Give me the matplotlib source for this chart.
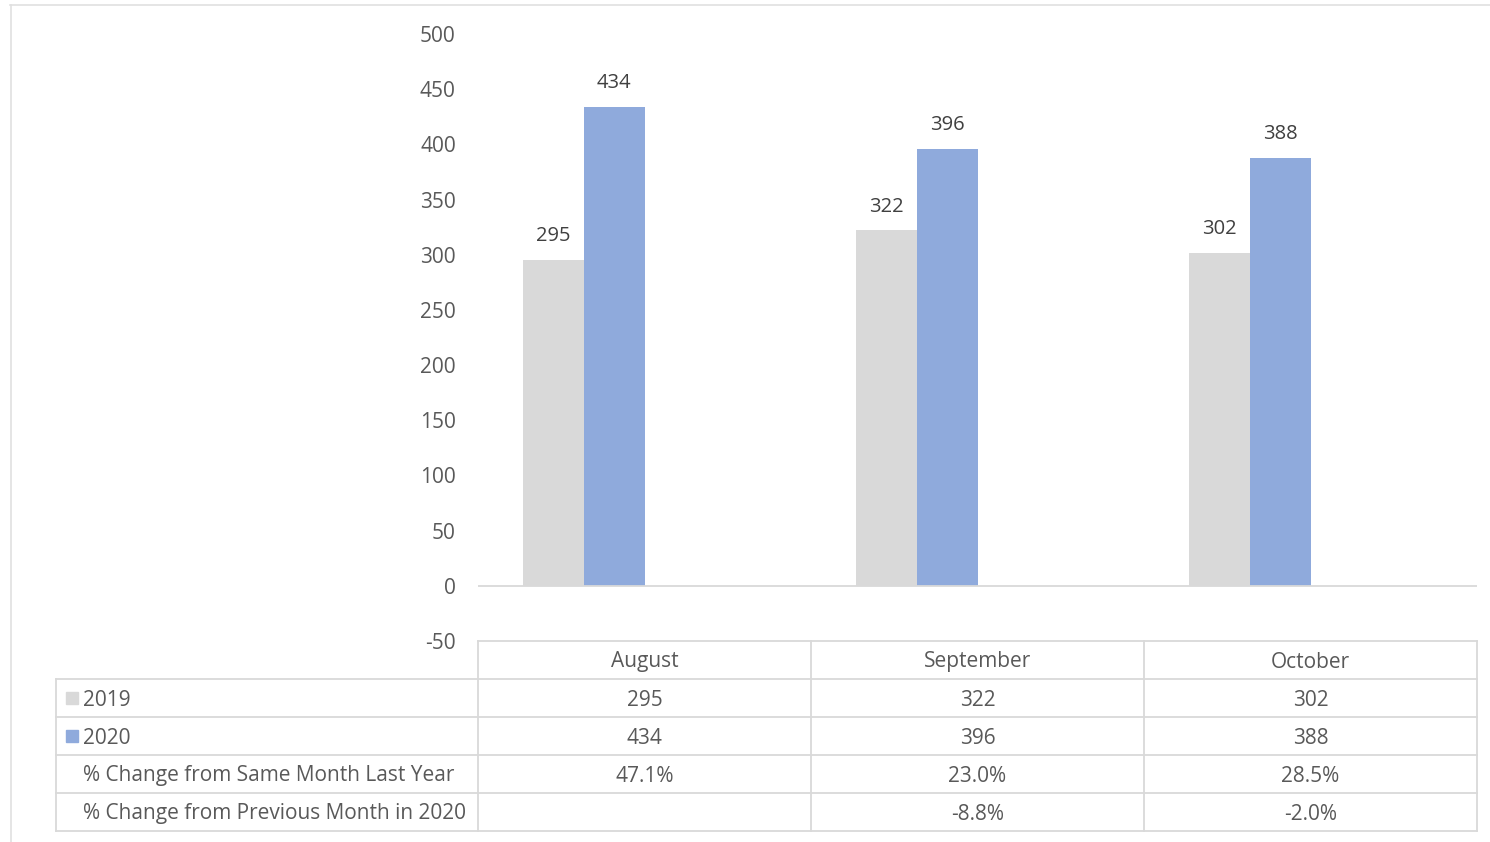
import matplotlib.pyplot as plt
from matplotlib.lines import Line2D
from matplotlib.patches import Rectangle

plt.rcParams["font.family"] = ["Open Sans", "DejaVu Sans"]
plt.rcParams["axes.unicode_minus"] = False

months = ["August", "September", "October"]
v2019 = [295, 322, 302]
v2020 = [434, 396, 388]
pct_year = ["47.1%", "23.0%", "28.5%"]
pct_month = ["", "-8.8%", "-2.0%"]
row_labels = ["2019", "2020", "% Change from Same Month Last Year",
              "% Change from Previous Month in 2020"]
yticks = list(range(-50, 501, 50))

grey = "#D9D9D9"
blue = "#8FAADC"
txt = "#595959"
line = "#D9D9D9"

W, H = 1490, 842
fig = plt.figure(figsize=(W / 100, H / 100), dpi=100)

# plot area in pixels
px_l, px_r, px_t, px_b = 478, 1477, 34, 641
ax = fig.add_axes([px_l / W, 1 - px_b / H, (px_r - px_l) / W, (px_b - px_t) / H])

w = 61 / 333
x = list(range(len(months)))
b1 = ax.bar([i - 1.5 * w for i in x], v2019, width=w, color=grey)
b2 = ax.bar([i - 0.5 * w for i in x], v2020, width=w, color=blue)
for bars, vals in [(b1, v2019), (b2, v2020)]:
    for r, v in zip(bars, vals):
        ax.annotate(str(v), (r.get_x() + r.get_width() / 2, v), xytext=(0, 10),
                    textcoords="offset points", ha="center", va="bottom",
                    fontsize=14.5, color="#404040")

ax.axhline(0, color=line, lw=1.3)
ax.set_xlim(-0.5, 2.5)
ax.set_ylim(-50, 500)
ax.set_yticks(yticks)
ax.tick_params(axis="y", length=0, pad=16, labelsize=15, labelcolor=txt)
ax.set_xticks([])
for s in ax.spines.values():
    s.set_visible(False)

# data table drawn on an overlay in pixel coordinates
ov = fig.add_axes([0, 0, 1, 1])
ov.set_xlim(0, W)
ov.set_ylim(H, 0)
ov.axis("off")

def seg(x0, y0, x1, y1, c=line, lw=1.3):
    ov.add_line(Line2D([x0, x1], [y0, y1], color=c, lw=lw))

# outer frame
seg(10, 5, W, 5, c="#E0E0E0", lw=1.2)
seg(11, 5, 11, H, c="#E0E0E0", lw=1.2)

cols = [478 + k * 333 for k in range(4)]
rows = [641 + k * 38 for k in range(6)]
tab_l = 56

seg(cols[0], rows[0], cols[-1], rows[0])
for y in rows[1:]:
    seg(tab_l, y, cols[-1], y)
for c in cols:
    seg(c, rows[0], c, rows[-1])
seg(tab_l, rows[1], tab_l, rows[-1])

for k, m in enumerate(months):
    ov.text((cols[k] + cols[k + 1]) / 2, (rows[0] + rows[1]) / 2 + 2, m,
            ha="center", va="center", fontsize=15, color=txt)

table_vals = [[str(v) for v in v2019], [str(v) for v in v2020], pct_year, pct_month]
for r, (lab, vals) in enumerate(zip(row_labels, table_vals)):
    yc = (rows[r + 1] + rows[r + 2]) / 2 + 2
    ov.text(83, yc, lab, ha="left", va="center", fontsize=15, color=txt)
    for k, v in enumerate(vals):
        ov.text((cols[k] + cols[k + 1]) / 2, yc, v, ha="center", va="center",
                fontsize=15, color=txt)

ov.add_patch(Rectangle((66, 692), 12, 12, color=grey))
ov.add_patch(Rectangle((66, 730), 12, 12, color=blue))

fig.savefig("out.png", dpi=100, facecolor="white")
